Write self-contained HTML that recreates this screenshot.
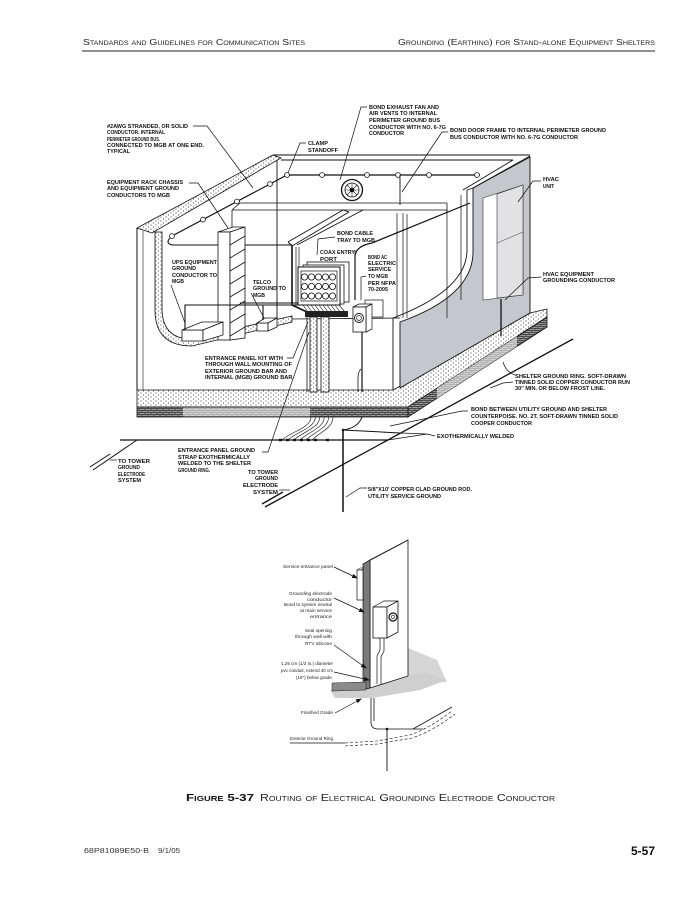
<!DOCTYPE html>
<html><head><meta charset="utf-8"><style>
html,body{margin:0;padding:0;background:#fff;}
svg{display:block;}
text{font-family:"Liberation Sans",Arial,sans-serif;}
.b{font-weight:bold;font-size:5.4px;fill:#111;}
.s{font-size:4.6px;fill:#222;}
.k{stroke:#111;fill:none;}
</style></head><body>
<svg width="695" height="899" viewBox="0 0 695 899" xmlns="http://www.w3.org/2000/svg">
<defs>
<pattern id="dots" width="5" height="4" patternUnits="userSpaceOnUse"><rect width="5" height="4" fill="#fff"/><circle cx="1" cy="1" r="0.55" fill="#222"/><circle cx="3.5" cy="3" r="0.55" fill="#222"/></pattern>
<pattern id="hd" width="6" height="4" patternUnits="userSpaceOnUse"><rect width="6" height="4" fill="#9a9a9a"/><path d="M0,0.5H6M0,2.5H6M1,0.5V2.5M4,2.5V4.5" stroke="#333" stroke-width="0.7"/></pattern>
<pattern id="hl" width="6" height="4" patternUnits="userSpaceOnUse"><rect width="6" height="4" fill="#d2d2d2"/><path d="M0,0.5H6M0,2.5H6M1,0.5V2.5M4,2.5V4.5" stroke="#999" stroke-width="0.6"/></pattern>
<marker id="ar" markerWidth="6" markerHeight="6" refX="5" refY="3" orient="auto" markerUnits="userSpaceOnUse"><path d="M0,0.8 L6,3 L0,5.2 Z" fill="#111"/></marker>
</defs>
<rect width="695" height="899" fill="#fff"/>

<!-- Header -->
<text x="83" y="45" font-size="8.6" style="font-variant:small-caps" fill="#222" textLength="222" lengthAdjust="spacingAndGlyphs">Standards  and Guidelines for Communication Sites</text>
<text x="398" y="45" font-size="8.6" style="font-variant:small-caps" fill="#222" textLength="257" lengthAdjust="spacingAndGlyphs">Grounding (Earthing) for Stand-alone Equipment Shelters</text>
<line x1="82" y1="51" x2="655" y2="51" stroke="#222" stroke-width="1.1"/>

<!-- ===== Upper diagram ===== -->
<!-- slab -->
<polygon points="137,390 393,390 530,313 547,309 547,317 408,407 137,407" fill="url(#dots)" stroke="#111" stroke-width="0.8"/>
<rect x="137" y="407" width="271" height="10" fill="url(#hd)" stroke="#111" stroke-width="0.8"/>
<rect x="183" y="407.6" width="127" height="8.8" fill="url(#hl)"/>
<polygon points="408,407 547,317 547,327 408,417" fill="url(#hd)" stroke="#111" stroke-width="0.8"/>
<polygon points="437,388.2 517,336.4 517,346.4 437,398.2" fill="url(#hl)"/>

<!-- gray right wall -->
<path d="M473,188 L530,157 L530,313 L400,388 L400,322 Q473,296 473,252 Z" fill="#c6c7cc" stroke="#111" stroke-width="0.9"/>
<path class="k" d="M467,190 L467,250 Q467,290 393,318 L393,390" stroke-width="0.9"/>
<line x1="467" y1="190" x2="473" y2="188" stroke="#111" stroke-width="0.8"/>
<!-- HVAC unit -->
<polygon points="483,198 523,185 523,295 483,300" fill="#fff" stroke="#333" stroke-width="0.6"/>
<polygon points="497,194 523,185 523,295 497,298" fill="#e2e2e5" stroke="#333" stroke-width="0.6"/>
<line x1="497" y1="243" x2="523" y2="232" stroke="#555" stroke-width="0.6"/>
<line x1="501" y1="299" x2="501" y2="336" stroke="#111" stroke-width="1.3"/>

<!-- roof -->
<polygon points="137,228 273,155 281,158 152,233" fill="url(#dots)" stroke="#111" stroke-width="0.8"/>
<path class="k" d="M273,155 L530,155 M281,160 L513,160 M530,156 L473,188 M513,160 L463,190" stroke-width="0.9"/>

<!-- left wall -->
<line x1="137" y1="228" x2="137" y2="390" stroke="#111" stroke-width="1"/>
<line x1="143" y1="231" x2="143" y2="390" stroke="#111" stroke-width="0.6"/>
<path d="M155,232 L155,310 Q155,346 192,346 L292,322 L292,316 L190,339 Q162,338 162,308 L162,232 Z" fill="url(#dots)" stroke="#111" stroke-width="0.8"/>
<path class="k" d="M292,319 L400,318" stroke-width="0.8"/>

<!-- back corner & ledge -->
<path class="k" d="M277,160 L277,320" stroke-width="0.9"/>
<path class="k" d="M232,210 L240,203 L447,203 M232,210 L447,210 M447,203 L447,213 M232,210 L232,230" stroke-width="0.8"/>
<path class="k" d="M397,213 L397,318 M403,213 L403,318 M407,214 L407,318 M447,210 L447,318 M461,195 L461,300 M355,250 L355,300" stroke-width="0.7"/>

<!-- ground bus -->
<path class="k" d="M172,236 L287,175 L480,175" stroke-width="1.2"/>
<path class="k" d="M172,236 Q164,243 172,245 L292,245" stroke-width="1.1"/>
<g fill="#fff" stroke="#111" stroke-width="0.8">
<circle cx="172" cy="236" r="2.4"/><circle cx="203" cy="219.6" r="2.4"/><circle cx="237" cy="201.5" r="2.4"/><circle cx="270" cy="184" r="2.4"/>
<circle cx="287" cy="175" r="2.4"/><circle cx="322" cy="175" r="2.4"/><circle cx="367" cy="175" r="2.4"/><circle cx="398" cy="175" r="2.4"/><circle cx="429" cy="175" r="2.4"/><circle cx="477" cy="175" r="2.4"/>
</g>
<!-- fan -->
<circle cx="352" cy="190" r="10.5" fill="#fff" stroke="#111" stroke-width="1.3"/>
<circle cx="352" cy="190" r="7" fill="none" stroke="#111" stroke-width="0.8"/>
<path class="k" d="M345,190 H359 M352,183 V197 M347,185 L357,195 M357,185 L347,195" stroke-width="0.6"/>
<circle cx="352" cy="190" r="2.3" fill="#111"/>
<line x1="400" y1="175" x2="400" y2="205" stroke="#111" stroke-width="0.9"/>

<!-- rack -->
<polygon points="218,232 233,227 245,227 230,232" fill="#fff" stroke="#111" stroke-width="0.8"/>
<rect x="218" y="232" width="12" height="108" fill="#fff" stroke="#111" stroke-width="0.8"/>
<polygon points="230,232 245,227 245,338 230,340" fill="#fff" stroke="#111" stroke-width="0.8"/>
<path class="k" d="M230,245 L245,236 M230,258 L245,249 M230,271 L245,262 M230,284 L245,275 M230,297 L245,288 M230,310 L245,301 M230,323 L245,314 M230,336 L245,327" stroke-width="0.8"/>

<!-- UPS & telco boxes -->
<g fill="#fff" stroke="#111" stroke-width="0.8">
<polygon points="182,330 203,330 203,341 182,341"/><polygon points="182,330 202,322 223,322 203,330"/><polygon points="203,330 223,322 223,335 203,341"/>
<polygon points="257,323 268,323 268,331 257,331"/><polygon points="257,323 265,318 277,318 268,323"/><polygon points="268,323 277,318 277,327 268,331"/>
</g>
<path class="k" d="M185,330 L185,305 L305,305 M263,320 L263,305 M240,303 L305,303" stroke-width="1.1"/>
<path class="k" d="M292,245 L292,305 L307,312" stroke-width="1.6"/>

<!-- cable tray -->
<path class="k" d="M288,242 L343,210 M292,246 L349,212 M288,242 L292,246 M297,245 L363,210 M343,210 L349,212" stroke-width="0.9"/>
<path class="k" d="M296,247 L296,305 M299,247 L299,305" stroke-width="0.7"/>

<!-- entrance panel -->
<rect x="307" y="262" width="42" height="40" fill="#fff" stroke="#111" stroke-width="0.8"/>
<rect x="303" y="265" width="41" height="39" fill="#fff" stroke="#111" stroke-width="0.8"/>
<rect x="298" y="267" width="42" height="38" fill="#fff" stroke="#111" stroke-width="1"/>
<rect x="301" y="271" width="36" height="30" fill="#fff" stroke="#111" stroke-width="0.7"/>
<g fill="#fff" stroke="#111" stroke-width="0.8">
<circle cx="304.5" cy="277" r="3.1"/><circle cx="311.5" cy="277" r="3.1"/><circle cx="318.5" cy="277" r="3.1"/><circle cx="325.5" cy="277" r="3.1"/><circle cx="332.5" cy="277" r="3.1"/>
<circle cx="304.5" cy="286.5" r="3.1"/><circle cx="311.5" cy="286.5" r="3.1"/><circle cx="318.5" cy="286.5" r="3.1"/><circle cx="325.5" cy="286.5" r="3.1"/><circle cx="332.5" cy="286.5" r="3.1"/>
<circle cx="304.5" cy="296" r="3.1"/><circle cx="311.5" cy="296" r="3.1"/><circle cx="318.5" cy="296" r="3.1"/><circle cx="325.5" cy="296" r="3.1"/><circle cx="332.5" cy="296" r="3.1"/>
</g>
<path class="k" d="M303,305 L308,312 M307,305 L312,312 M311,305 L316,312 M315,305 L320,312 M319,305 L324,312 M323,305 L328,312 M327,305 L332,312 M331,305 L336,312 M335,305 L340,312 M339,305 L345,312" stroke-width="0.6"/>
<rect x="305" y="311" width="43" height="6" fill="#222"/>
<rect x="310" y="317" width="7" height="75" fill="url(#dots)" stroke="#111" stroke-width="0.8"/>
<rect x="321" y="317" width="8" height="75" fill="url(#dots)" stroke="#111" stroke-width="0.8"/>
<line x1="307" y1="317" x2="307" y2="392" stroke="#111" stroke-width="0.8"/>

<!-- meter -->
<rect x="365" y="300" width="18" height="17" fill="#fff" stroke="#111" stroke-width="0.7"/>
<polygon points="353,307 359,304 372,304 366,307" fill="#fff" stroke="#111" stroke-width="0.7"/>
<polygon points="366,307 372,304 372,329 366,332" fill="#fff" stroke="#111" stroke-width="0.7"/>
<rect x="353" y="307" width="13" height="25" fill="#fff" stroke="#111" stroke-width="0.8"/>
<circle cx="359" cy="318" r="4.5" fill="#fff" stroke="#111" stroke-width="0.9"/>
<circle cx="359" cy="318" r="2.4" fill="none" stroke="#111" stroke-width="0.7"/>
<line x1="362" y1="332" x2="362" y2="392" stroke="#111" stroke-width="1.2"/>
<path class="k" d="M358,392 L358,378 Q358,372 361,369" stroke-width="0.8"/>

<!-- HVAC bond conductor -->
<path class="k" d="M355,300 L355,256 Q356,246 372,243 L470,203" stroke-width="1.2"/>

<!-- ground system -->
<line x1="120" y1="440" x2="388" y2="440" stroke="#111" stroke-width="1.3"/>
<path class="k" d="M137,440 L93,470 M90,467 L110,454" stroke-width="1"/>
<path class="k" d="M265,507 L573,339 M262,504 L283,492" stroke-width="1.3"/>
<line x1="343" y1="430" x2="343" y2="512" stroke="#111" stroke-width="1.5"/>
<path class="k" d="M343,430 L400,433 M362,417 Q358,428 343,430" stroke-width="1"/>
<circle cx="343" cy="430" r="1.3" fill="#111"/>
<path class="k" d="M311,417 C311,428 290,432 282,440 M315.4,417 C315.4,428 296,432 288,440 M319.8,417 C319.8,428 302,432 294,440 M324.2,417 C324.2,428 308,432 300,440 M328.6,417 C328.6,428 314,432 306,440 M333,417 C333,428 320,432 312,440" stroke-width="0.6"/>
<g fill="#111"><rect x="279" y="438.8" width="3" height="2.4"/><rect x="286" y="438.8" width="3" height="2.4"/><rect x="293" y="438.8" width="3" height="2.4"/><rect x="300" y="438.8" width="3" height="2.4"/><rect x="307" y="438.8" width="3" height="2.4"/><rect x="314" y="438.8" width="3" height="2.4"/><rect x="326" y="438.8" width="3" height="2.4"/></g>

<!-- leaders upper -->
<g class="k" stroke-width="0.7">
<path d="M193,126 L207,126 L253,188"/>
<path d="M189,183 L198,183 L228,228"/>
<path d="M171,285 L185,323"/>
<path d="M251,293 L264,318"/>
<path d="M306,143 L300,143 L288,173"/>
<path d="M367,107 L361,107 L340,180"/>
<path d="M448,132 L442,132 L402,192"/>
<path d="M541,181 L533,181 L518,202"/>
<path d="M541,277 L528,278 L505,300"/>
<path d="M335,237 L318,239 L317,255"/>
<path d="M366,276 L361,277 L361,300"/>
<path d="M287,358 L293,358 L308,322"/>
<path d="M513,382 L503,383 L490,388"/>
<path d="M503,362 Q506,372 515,375"/>
<path d="M468,411 L462,411 L390,426"/>
<path d="M435,436 L427,434 L401,433 M427,434 L388,440"/>
<path d="M367,488 L360,488 L346,497"/>
<path d="M110,460 L117,460"/>
<path d="M279,490 L290,490"/>
<path d="M262,452 L268,452 L309,332"/>
</g>

<!-- labels upper -->
<g class="b">
<text x="107" y="128" textLength="81" lengthAdjust="spacingAndGlyphs">#2AWG STRANDED, OR SOLID</text>
<text x="107" y="134" textLength="58" lengthAdjust="spacingAndGlyphs">CONDUCTOR. INTERNAL</text>
<text x="107" y="141" textLength="53" lengthAdjust="spacingAndGlyphs">PERIMETER GROUND BUS.</text>
<text x="107" y="147" textLength="97" lengthAdjust="spacingAndGlyphs">CONNECTED TO MGB AT ONE END.</text>
<text x="107" y="153" textLength="23" lengthAdjust="spacingAndGlyphs">TYPICAL</text>

<text x="107" y="184" textLength="76" lengthAdjust="spacingAndGlyphs">EQUIPMENT RACK CHASSIS</text>
<text x="107" y="190" textLength="72" lengthAdjust="spacingAndGlyphs">AND EQUIPMENT GROUND</text>
<text x="107" y="197" textLength="63" lengthAdjust="spacingAndGlyphs">CONDUCTORS TO MGB</text>

<text x="172" y="264" textLength="45" lengthAdjust="spacingAndGlyphs">UPS EQUIPMENT</text>
<text x="172" y="270" textLength="24" lengthAdjust="spacingAndGlyphs">GROUND</text>
<text x="172" y="277" textLength="45" lengthAdjust="spacingAndGlyphs">CONDUCTOR TO</text>
<text x="172" y="283" textLength="12" lengthAdjust="spacingAndGlyphs">MGB</text>

<text x="253" y="284" textLength="18" lengthAdjust="spacingAndGlyphs">TELCO</text>
<text x="253" y="290" textLength="33" lengthAdjust="spacingAndGlyphs">GROUND TO</text>
<text x="253" y="297" textLength="12" lengthAdjust="spacingAndGlyphs">MGB</text>

<text x="308" y="145" textLength="20" lengthAdjust="spacingAndGlyphs">CLAMP</text>
<text x="308" y="152" textLength="30" lengthAdjust="spacingAndGlyphs">STANDOFF</text>

<text x="369" y="109" textLength="70" lengthAdjust="spacingAndGlyphs">BOND EXHAUST FAN AND</text>
<text x="369" y="115" textLength="68" lengthAdjust="spacingAndGlyphs">AIR VENTS TO INTERNAL</text>
<text x="369" y="122" textLength="71" lengthAdjust="spacingAndGlyphs">PERIMETER GROUND BUS</text>
<text x="369" y="129" textLength="77" lengthAdjust="spacingAndGlyphs">CONDUCTOR WITH NO. 6-7G</text>
<text x="369" y="135" textLength="35" lengthAdjust="spacingAndGlyphs">CONDUCTOR</text>

<text x="450" y="132" textLength="156" lengthAdjust="spacingAndGlyphs">BOND DOOR FRAME TO INTERNAL PERIMETER GROUND</text>
<text x="450" y="139" textLength="128" lengthAdjust="spacingAndGlyphs">BUS CONDUCTOR WITH NO. 6-7G CONDUCTOR</text>

<text x="543" y="181" textLength="16" lengthAdjust="spacingAndGlyphs">HVAC</text>
<text x="543" y="188" textLength="11" lengthAdjust="spacingAndGlyphs">UNIT</text>

<text x="543" y="276" textLength="51" lengthAdjust="spacingAndGlyphs">HVAC EQUIPMENT</text>
<text x="543" y="282" textLength="72" lengthAdjust="spacingAndGlyphs">GROUNDING CONDUCTOR</text>

<text x="337" y="235" textLength="36" lengthAdjust="spacingAndGlyphs">BOND CABLE</text>
<text x="337" y="242" textLength="38" lengthAdjust="spacingAndGlyphs">TRAY TO MGB</text>

<text x="320" y="254" textLength="35" lengthAdjust="spacingAndGlyphs">COAX ENTRY</text>
<text x="320" y="261" textLength="17" lengthAdjust="spacingAndGlyphs">PORT</text>

<text x="368" y="259" textLength="19" lengthAdjust="spacingAndGlyphs">BOND AC</text>
<text x="368" y="265" textLength="28" lengthAdjust="spacingAndGlyphs">ELECTRIC</text>
<text x="368" y="271" textLength="23" lengthAdjust="spacingAndGlyphs">SERVICE</text>
<text x="368" y="278" textLength="20" lengthAdjust="spacingAndGlyphs">TO MGB</text>
<text x="368" y="285" textLength="28" lengthAdjust="spacingAndGlyphs">PER NFPA</text>
<text x="368" y="291" textLength="20" lengthAdjust="spacingAndGlyphs">70-2005</text>

<text x="205" y="360" textLength="78" lengthAdjust="spacingAndGlyphs">ENTRANCE PANEL KIT WITH</text>
<text x="205" y="366" textLength="87" lengthAdjust="spacingAndGlyphs">THROUGH WALL MOUNTING OF</text>
<text x="205" y="373" textLength="82" lengthAdjust="spacingAndGlyphs">EXTERIOR GROUND BAR AND</text>
<text x="205" y="379" textLength="89" lengthAdjust="spacingAndGlyphs" style="font-weight:900">INTERNAL (MGB) GROUND BAR.</text>

<text x="515" y="378" textLength="111" lengthAdjust="spacingAndGlyphs">SHELTER GROUND RING.  SOFT-DRAWN</text>
<text x="515" y="384" textLength="115" lengthAdjust="spacingAndGlyphs">TINNED SOLID COPPER CONDUCTOR RUN</text>
<text x="515" y="390" textLength="90" lengthAdjust="spacingAndGlyphs">30" MIN. OR BELOW FROST LINE.</text>

<text x="471" y="411" textLength="136" lengthAdjust="spacingAndGlyphs">BOND BETWEEN UTILITY GROUND AND SHELTER</text>
<text x="471" y="418" textLength="147" lengthAdjust="spacingAndGlyphs">COUNTERPOISE. NO. 2T, SOFT-DRAWN TINNED SOLID</text>
<text x="471" y="425" textLength="61" lengthAdjust="spacingAndGlyphs">COOPER CONDUCTOR</text>

<text x="437" y="438" textLength="77" lengthAdjust="spacingAndGlyphs">EXOTHERMICALLY WELDED</text>

<text x="368" y="491" textLength="104" lengthAdjust="spacingAndGlyphs">5/8"X10' COPPER CLAD GROUND ROD.</text>
<text x="368" y="498" textLength="73" lengthAdjust="spacingAndGlyphs">UTILITY SERVICE GROUND</text>

<text x="118" y="463" textLength="32" lengthAdjust="spacingAndGlyphs">TO TOWER</text>
<text x="118" y="469" textLength="22" lengthAdjust="spacingAndGlyphs">GROUND</text>
<text x="118" y="476" textLength="27" lengthAdjust="spacingAndGlyphs">ELECTRODE</text>
<text x="118" y="482" textLength="23" lengthAdjust="spacingAndGlyphs">SYSTEM</text>

<text x="278" y="474" text-anchor="end" textLength="30" lengthAdjust="spacingAndGlyphs">TO TOWER</text>
<text x="278" y="480" text-anchor="end" textLength="23" lengthAdjust="spacingAndGlyphs">GROUND</text>
<text x="278" y="487" text-anchor="end" textLength="35" lengthAdjust="spacingAndGlyphs">ELECTRODE</text>
<text x="278" y="494" text-anchor="end" textLength="25" lengthAdjust="spacingAndGlyphs">SYSTEM</text>

<text x="178" y="452" textLength="77" lengthAdjust="spacingAndGlyphs">ENTRANCE PANEL GROUND</text>
<text x="178" y="459" textLength="72" lengthAdjust="spacingAndGlyphs">STRAP EXOTHERMICALLY</text>
<text x="178" y="465" textLength="73" lengthAdjust="spacingAndGlyphs">WELDED TO THE SHELTER</text>
<text x="178" y="472" textLength="32" lengthAdjust="spacingAndGlyphs">GROUND RING.</text>
</g>

<!-- ===== Lower diagram ===== -->
<polygon points="408,648 437,660 447,682 408,684" fill="#d6d6d6"/>
<polygon points="330,690 362,686 425,672 447,680 420,690 372,698 335,698" fill="#cfcfcf"/>
<polygon points="370,560 408,540 408,676 370,688" fill="#fff" stroke="#111" stroke-width="0.8"/>
<polygon points="363,564 370,560 408,540 401,544" fill="#555" stroke="#111" stroke-width="0.6"/>
<polygon points="363,564 370,560 370,688 363,690" fill="#7a7a7a" stroke="#111" stroke-width="0.7"/>
<polygon points="332,683 366,682 366,690 332,691" fill="#8a8a8a" stroke="#222" stroke-width="0.5"/>
<!-- service entrance panel -->
<polygon points="357,570 360,568 364,568 361,570" fill="#fff" stroke="#111" stroke-width="0.5"/>
<rect x="357" y="570" width="6" height="30" fill="#fff" stroke="#111" stroke-width="0.7"/>
<!-- meter box -->
<polygon points="373,607 384,601 398,601 387,607" fill="#fff" stroke="#111" stroke-width="0.7"/>
<rect x="373" y="607" width="14" height="31" fill="#fff" stroke="#111" stroke-width="0.8"/>
<polygon points="387,607 398,601 398,632 387,638" fill="#fff" stroke="#111" stroke-width="0.8"/>
<circle cx="393" cy="617" r="4" fill="#fff" stroke="#111" stroke-width="1.2"/>
<circle cx="393" cy="617" r="1.8" fill="none" stroke="#111" stroke-width="0.6"/>
<!-- conduit -->
<path class="k" d="M380,638 L380,650 L377,656 L377,684 M384,638 L384,651 L381,657 L381,684" stroke-width="0.7"/>
<!-- below grade -->
<path class="k" d="M371,698 L371,722 Q371,729 378,729 L423,729 M374,698 L374,721" stroke-width="0.8"/>
<circle cx="387" cy="729" r="1.3" fill="#111"/>
<line x1="387" y1="729" x2="387" y2="771" stroke="#111" stroke-width="0.9"/>
<path class="k" d="M413,729 L452,707" stroke-width="0.8"/>
<path class="k" d="M345,743 L377,741 L410,735 Q430,728 452,711 M345,746 L378,744 L412,738 Q433,731 455,714" stroke-width="0.6" stroke-dasharray="3,2"/>
<line x1="290" y1="743" x2="345" y2="743" stroke="#111" stroke-width="0.7"/>
<!-- arrows -->
<g class="k" stroke-width="0.7" marker-end="url(#ar)">
<path d="M334,567 L357,578"/>
<path d="M334,598 L364,612"/>
<path d="M334,645 L366,668"/>
<path d="M334,672 L369,680"/>
<path d="M335,713 L361,699"/>
</g>
<g class="s">
<text x="333" y="568" text-anchor="end" textLength="50" lengthAdjust="spacingAndGlyphs">Service entrance panel</text>
<text x="332" y="595" text-anchor="end" textLength="43" lengthAdjust="spacingAndGlyphs">Grounding electrode</text>
<text x="332" y="601" text-anchor="end" textLength="25" lengthAdjust="spacingAndGlyphs">conductor</text>
<text x="332" y="606" text-anchor="end" textLength="48" lengthAdjust="spacingAndGlyphs">Bond to system neutral</text>
<text x="332" y="612" text-anchor="end" textLength="32" lengthAdjust="spacingAndGlyphs">at main service</text>
<text x="332" y="618" text-anchor="end" textLength="22" lengthAdjust="spacingAndGlyphs">entrance</text>
<text x="332" y="632" text-anchor="end" textLength="27" lengthAdjust="spacingAndGlyphs">Seal opening</text>
<text x="332" y="638" text-anchor="end" textLength="37" lengthAdjust="spacingAndGlyphs">through wall with</text>
<text x="332" y="645" text-anchor="end" textLength="27" lengthAdjust="spacingAndGlyphs">RTV silicone</text>
<text x="333" y="665" text-anchor="end" textLength="52" lengthAdjust="spacingAndGlyphs">1.25 cm (1/2 in.) diameter</text>
<text x="333" y="672" text-anchor="end" textLength="52" lengthAdjust="spacingAndGlyphs">pvc conduit, extend 40 cm</text>
<text x="333" y="679" text-anchor="end" textLength="37" lengthAdjust="spacingAndGlyphs">(16") below grade.</text>
<text x="333" y="714" text-anchor="end" textLength="32" lengthAdjust="spacingAndGlyphs">Finished Grade</text>
<text x="290" y="740" textLength="43" lengthAdjust="spacingAndGlyphs">Exterior Ground Ring</text>
</g>

<!-- Caption -->
<text x="186" y="801" font-size="10" font-weight="bold" style="font-variant:small-caps" fill="#111" textLength="68" lengthAdjust="spacingAndGlyphs">Figure 5-37</text>
<text x="260" y="801" font-size="10" style="font-variant:small-caps" fill="#222" textLength="295" lengthAdjust="spacingAndGlyphs">Routing of Electrical Grounding Electrode Conductor</text>

<!-- Footer -->
<text x="84" y="853" font-size="7" fill="#333" textLength="65" lengthAdjust="spacingAndGlyphs">68P81089E50-B</text>
<text x="158" y="853" font-size="7" fill="#333" textLength="22" lengthAdjust="spacingAndGlyphs">9/1/05</text>
<text x="655" y="855" font-size="12" font-weight="bold" fill="#111" text-anchor="end" textLength="24" lengthAdjust="spacingAndGlyphs">5-57</text>
</svg>
</body></html>
